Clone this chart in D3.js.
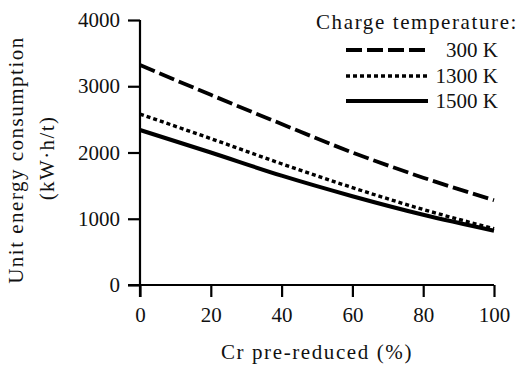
<!DOCTYPE html>
<html><head><meta charset="utf-8">
<script src="https://cdn.jsdelivr.net/npm/d3@7"></script>
<style>body{margin:0;background:#fff}svg{display:block}</style>
</head><body>
<svg id="c" width="524" height="367"></svg>
<script>
const xValues = [0, 20, 40, 60, 80, 100];
const series300 = [3320, 2870, 2430, 2000, 1620, 1280];
const series1300 = [2580, 2210, 1830, 1470, 1140, 850];
const series1500 = [2340, 2000, 1650, 1340, 1060, 820];
const xTicks = [0, 20, 40, 60, 80, 100];
const yTicks = [0, 1000, 2000, 3000, 4000];
const seriesNames = ["300 K", "1300 K", "1500 K"];

const svg = d3.select("#c");
const font = "'Liberation Serif', 'DejaVu Serif', serif";
const x = d3.scaleLinear().domain([0, 100]).range([140, 494]);
const y = d3.scaleLinear().domain([0, 4000]).range([285, 20]);

const xAxis = svg.append("g").attr("transform", "translate(0,285)")
  .call(d3.axisBottom(x).tickValues(xTicks).tickFormat(d3.format("d")).tickSize(12).tickSizeOuter(0).tickPadding(10));
const yAxis = svg.append("g").attr("transform", "translate(140,0)")
  .call(d3.axisLeft(y).tickValues(yTicks).tickFormat(d3.format("d")).tickSize(12).tickSizeOuter(0).tickPadding(8));
[xAxis, yAxis].forEach(a => {
  a.select(".domain").attr("stroke", "#000").attr("stroke-width", 2.2);
  a.selectAll(".tick line").attr("stroke", "#000").attr("stroke-width", 2.2);
  a.selectAll("text").attr("fill", "#111").style("font-family", font).style("font-size", "21px");
});
yAxis.select(".domain").attr("d", "M0,20V297");
xAxis.select(".domain").attr("d", "M128,0H494");

const styles = [
  {dash: "16,5", w: 3.8},
  {dash: "4,3", w: 3.4},
  {dash: null, w: 4}
];
const allSeries = [series300, series1300, series1500];
const line = d3.line().x((d, i) => x(xValues[i])).y(d => y(d)).curve(d3.curveMonotoneX);
allSeries.forEach((s, k) => {
  svg.append("path").datum(s).attr("d", line)
    .attr("fill", "none").attr("stroke", "#000")
    .attr("stroke-width", styles[k].w)
    .attr("stroke-dasharray", styles[k].dash);
});

// legend
svg.append("text").attr("x", 316).attr("y", 29)
  .style("font-family", font).style("font-size", "21px").style("letter-spacing", "1.6px").attr("fill", "#111")
  .text("Charge temperature:");
const ly = [50, 76, 101];
seriesNames.forEach((n, k) => {
  svg.append("line").attr("x1", 346).attr("x2", 428).attr("y1", ly[k]).attr("y2", ly[k])
    .attr("stroke", "#000").attr("stroke-width", styles[k].w)
    .attr("stroke-dasharray", styles[k].dash);
  svg.append("text").attr("x", 498).attr("y", ly[k] + 7).attr("text-anchor", "end")
    .style("font-family", font).style("font-size", "21px").attr("fill", "#111").text(n);
});

// axis titles
svg.append("text").attr("x", 317).attr("y", 359).attr("text-anchor", "middle")
  .style("font-family", font).style("font-size", "21px").style("letter-spacing", "1.6px").attr("fill", "#111")
  .text("Cr pre-reduced (%)");
svg.append("text").attr("transform", "translate(23,160) rotate(-90)").attr("text-anchor", "middle")
  .style("font-family", font).style("font-size", "21px").style("letter-spacing", "1.5px").attr("fill", "#111")
  .text("Unit energy consumption");
svg.append("text").attr("transform", "translate(54,158) rotate(-90)").attr("text-anchor", "middle")
  .style("font-family", font).style("font-size", "21px").style("letter-spacing", "1.4px").attr("fill", "#111")
  .text("(kW\u00B7h/t)");
</script>
</body></html>
